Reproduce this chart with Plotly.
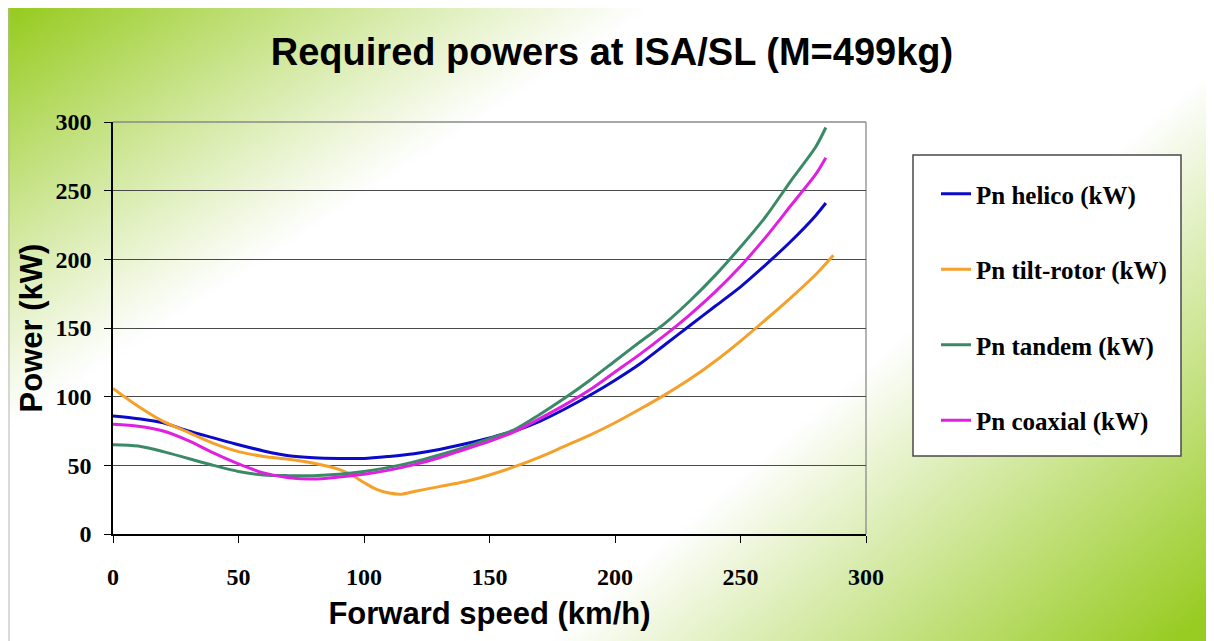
import base64, struct, zlib
import numpy as np
import plotly.graph_objects as go

# ---------------- data ----------------
speeds = [0, 10, 20, 30, 40, 50, 60, 70, 80, 90, 100, 110, 120, 130, 140, 150,
          160, 170, 180, 190, 200, 210, 220, 230, 240, 250, 260, 270, 280, 284]
helico = [86, 84, 81, 75, 70, 65, 60.5, 57, 55.5, 55, 55, 56.5, 58.5, 61.5, 65.5, 70,
          75, 82, 91, 101, 112, 124, 138, 152, 166, 180, 196, 213, 232, 241]
tandem = [65, 64, 60, 55, 50, 45.5, 43, 42.5, 42.5, 43.5, 45.5, 48.5, 52.5, 57.5, 63, 69.5,
          76, 87, 99, 112, 126, 140, 153.5, 170, 188.5, 209, 231, 257, 282, 296]
coaxial = [80, 78.5, 75, 68, 59, 51, 44.5, 41, 40, 41.5, 43.5, 46.5, 50.5, 55.5, 61.5, 67.5,
           74.5, 84, 94, 105, 118, 131, 145, 160, 176.5, 195, 216, 239, 262, 274]
speeds_tilt = [0, 10, 20, 30, 40, 50, 60, 70, 80, 90, 95, 100, 105, 110, 115, 120, 130, 140,
               150, 160, 170, 180, 190, 200, 210, 220, 230, 240, 250, 260, 270, 280, 287]
tilt_rotor = [106, 93, 82, 74, 66, 60, 56.5, 54.5, 51.5, 47, 43, 37.5, 32.5, 29.8, 29, 31, 34.5, 38,
              43, 49, 56, 64, 72, 81, 91, 101.5, 113, 126, 140.5, 156, 172, 189, 203]

series_names = ["Pn helico (kW)", "Pn tilt-rotor (kW)", "Pn tandem (kW)", "Pn coaxial (kW)"]
series_colors = ["#0a0ac8", "#f5a02a", "#3a8a68", "#e020e0"]

x_ticks = [0, 50, 100, 150, 200, 250, 300]
y_ticks = [0, 50, 100, 150, 200, 250, 300]

# ---------------- geometry (page has an 8px body margin) ----------------
OFF = 8
PAGE_W, PAGE_H = 1214, 641
FW, FH = PAGE_W - OFF, PAGE_H - OFF
ML, MR, MT, MB = 113 - OFF, PAGE_W - 866, 122 - OFF, PAGE_H - 534
PW, PH = FW - ML - MR, FH - MT - MB


def pxx(x):  # page x -> paper
    return (x - OFF - ML) / PW


def pxy(y):  # page y -> paper
    return (FH - MB - (y - OFF)) / PH


# ---------------- background gradient (PNG built in memory) ----------------
GW, GH = 302, 158
gx = OFF + (np.arange(GW) + 0.5) * (FW / GW)
gy = OFF + (np.arange(GH) + 0.5) * (FH / GH)
PX, PY = np.meshgrid(gx, gy)
a1 = np.clip(1 - (PX / 660.0 + PY / 430.0), 0, 1) ** 1.05
a2 = np.clip(1 + (PX - PAGE_W) / 660.0 + (PY - PAGE_H) / 570.0, 0, 1) ** 0.95
a = np.clip(np.maximum(a1, a2) * 1.05, 0, 1)[..., None]
green = np.array([152, 204, 34], dtype=float)
white = np.array([255, 255, 255], dtype=float)
img = (white * (1 - a) + green * a).astype(np.uint8)


def make_png(arr):
    h, w, _ = arr.shape
    raw = b"".join(b"\x00" + arr[r].tobytes() for r in range(h))

    def chunk(tag, data):
        return (struct.pack(">I", len(data)) + tag + data +
                struct.pack(">I", zlib.crc32(tag + data) & 0xFFFFFFFF))

    return (b"\x89PNG\r\n\x1a\n" +
            chunk(b"IHDR", struct.pack(">IIBBBBB", w, h, 8, 2, 0, 0, 0)) +
            chunk(b"IDAT", zlib.compress(raw, 9)) +
            chunk(b"IEND", b""))


bg_src = "data:image/png;base64," + base64.b64encode(make_png(img)).decode()

fig = go.Figure()
series_x = [speeds, speeds_tilt, speeds, speeds]
series_y = [helico, tilt_rotor, tandem, coaxial]
for i, (nm, col) in enumerate(zip(series_names, series_colors)):
    fig.add_trace(go.Scatter(
        x=series_x[i], y=series_y[i], mode="lines", name=nm,
        line=dict(color=col, width=3, shape="spline", smoothing=0.8),
        legendgroup=f"g{i}",
    ))

tick_font = dict(family="Liberation Serif, Times New Roman, serif", size=24, color="black", weight="bold")
title_font = dict(family="Liberation Sans, Arial, sans-serif", size=31, color="black", weight="bold")

fig.update_layout(
    width=FW, height=FH,
    margin=dict(l=ML, r=MR, t=MT, b=MB, autoexpand=False),
    paper_bgcolor="white",
    plot_bgcolor="white",
    title=dict(text="Required powers at ISA/SL (M=499kg)", x=(612 - OFF) / FW, xanchor="center",
               y=1 - (52 - OFF) / FH, yanchor="middle",
               font=dict(family="Liberation Sans, Arial, sans-serif", size=38, color="black", weight="bold")),
    xaxis=dict(range=[0, 300], tickvals=x_ticks, ticks="outside", ticklen=7, tickcolor="black",
               showline=True, linecolor="black", linewidth=1.5, showgrid=False, zeroline=False,
               tickfont=tick_font, ticklabelstandoff=13,
               title=dict(text="Forward speed (km/h)", font=title_font, standoff=14)),
    yaxis=dict(range=[0, 300], tickvals=y_ticks, ticks="outside", ticklen=7, tickcolor="black",
               showline=True, linecolor="black", linewidth=1.5, showgrid=True,
               gridcolor="#4a4a4a", gridwidth=1.4, zeroline=False,
               tickfont=tick_font, ticklabelstandoff=8,
               title=dict(text="Power (kW)", font=title_font, standoff=4)),
    legend=dict(x=pxx(936), y=pxy(171), xanchor="left", yanchor="top",
                bgcolor="rgba(0,0,0,0)", borderwidth=0, tracegroupgap=40,
                font=dict(family="Liberation Serif, Times New Roman, serif", size=25,
                          color="black", weight="bold")),
    showlegend=True,
    images=[dict(source=bg_src, xref="paper", yref="paper",
                 x=pxx(OFF), y=pxy(OFF), sizex=FW / PW, sizey=FH / PH,
                 xanchor="left", yanchor="top", sizing="stretch", layer="below")],
    shapes=[
        # plot area frame (top/right in grey)
        dict(type="line", xref="paper", yref="paper", x0=0, x1=1, y0=1, y1=1,
             line=dict(color="#8a8a8a", width=1.3), layer="below"),
        dict(type="line", xref="paper", yref="paper", x0=1, x1=1, y0=0, y1=1,
             line=dict(color="#8a8a8a", width=1.3), layer="below"),
        # legend box
        dict(type="rect", xref="paper", yref="paper",
             x0=pxx(913), x1=pxx(1181), y0=pxy(456), y1=pxy(155),
             fillcolor="white", line=dict(color="#4a4a4a", width=1.5), layer="above"),
        # slide edge line
        dict(type="line", xref="paper", yref="paper", x0=pxx(9), x1=pxx(9), y0=pxy(PAGE_H), y1=pxy(OFF),
             line=dict(color="#b4b4b4", width=1), layer="above"),
    ],
)

fig.write_html("out.html")
